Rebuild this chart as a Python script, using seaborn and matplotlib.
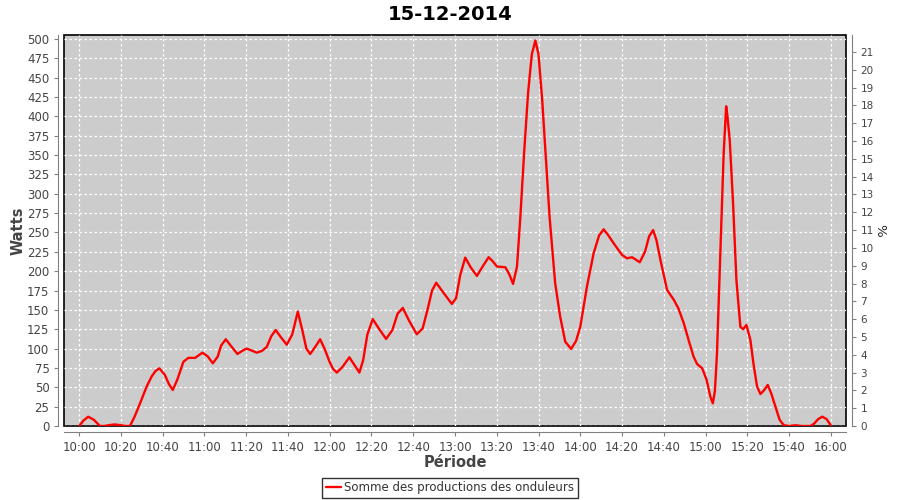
import numpy as np
import pandas as pd
import matplotlib
matplotlib.use("Agg")
import matplotlib.pyplot as plt
import seaborn as sns

# =========================
# DATA (minutes after 10:00, watts)
# =========================
minutes = [0, 2, 4.3, 7, 9.9, 12, 14, 17, 20, 22, 24.3, 26.5, 29.1, 32.3, 34.7, 36.5,
           38.4, 41, 43, 44.8, 47, 49.9, 52.3, 55.5, 59, 61.5, 64, 66.3, 68, 70.2, 72.5,
           75.8, 78, 80.2, 83, 85, 87.5, 89.8, 92, 94.1, 96.5, 99.4, 102, 104.7, 107,
           108.8, 110.6, 113, 115.4, 117.5, 119.9, 121.5, 123.4, 126, 129.4, 131.5,
           134.2, 136, 138, 140.6, 143.5, 147, 150, 152.5, 155, 158, 161.7, 164.5, 167,
           169, 171, 174.5, 178.5, 180.5, 182.5, 184.9, 187.5, 190.5, 193, 196.1, 198,
           200.1, 204.1, 206, 207.8, 209.7, 211.3, 213.2, 215, 216.8, 218.5, 220, 221.8,
           223.3, 225.3, 228, 230.4, 232.8, 235.6, 238, 240, 243.2, 246.4, 249, 251.2,
           253.5, 256, 260, 262.4, 264.8, 268.5, 271, 273, 274.9, 276.5, 278.4, 281.6,
           284.8, 287, 289.6, 292, 294.3, 296, 298.4, 300.5, 302.3, 303.5, 304.5, 305.5,
           307.1, 308.7, 309.9, 310.5, 311.6, 313.2, 314.8, 316.7, 318, 319.6, 321.5,
           323, 324.7, 326.3, 328, 329.8, 331.5, 333.5, 335.5, 337.5, 340, 343, 346,
           350.3, 352, 354, 355.9, 358, 360.2]
watts = [0, 7, 12, 8, 0, 0, 1, 2, 1, 0, 0, 12, 29, 51, 64, 71,
         74.5, 66, 54, 46.5, 60, 83, 88, 88, 94.7, 90, 81, 89.5, 104, 112, 104,
         93, 97, 100, 97, 94.7, 97, 102, 116, 124, 115, 105, 118, 147.7, 122,
         100, 93, 102, 112, 100, 83, 74, 69, 76, 88.7, 80,
         69, 85, 118, 138, 126, 112.4, 124, 145, 152.5, 136, 118.5, 126, 152,
         175, 185, 172, 157.6, 165, 195, 217.5, 205, 193.8, 205, 218, 213,
         206, 205, 196, 183.5, 206, 270, 356.6, 430, 480, 498, 480, 420,
         356.6, 270, 184, 141, 109, 99.5, 110, 128, 180, 223, 246, 254,
         246, 236, 221, 216.6, 218, 211.5, 225, 245, 253, 240, 214.5, 175.7,
         163, 152, 132.7, 110, 89.5, 80, 74.5, 60, 38, 29.3, 45, 94,
         223, 352, 413, 400, 369.5, 287.7, 188.6, 128, 125, 130.5, 111,
         80, 51, 41.3, 46, 53, 42, 25, 8, 1, 0, 1, 0,
         0, 3, 9, 12, 9, 0]

tick_minutes = list(range(0, 361, 20))
tick_labels = ["10:00", "10:20", "10:40", "11:00", "11:20", "11:40", "12:00",
               "12:20", "12:40", "13:00", "13:20", "13:40", "14:00", "14:20",
               "14:40", "15:00", "15:20", "15:40", "16:00"]
watt_ticks = list(range(0, 501, 25))
pct_ticks = list(range(0, 22))

title = "15-12-2014"
series_label = "Somme des productions des onduleurs"

df = pd.DataFrame({"minutes": minutes, "watts": watts})

# =========================
# PLOT
# =========================
sns.set_style("white")
plt.rcParams['font.family'] = ['DejaVu Sans']

fig = plt.figure(figsize=(9, 5), dpi=100)
ax = fig.add_axes([64 / 900, 74 / 500, 782 / 900, 391 / 500])

sns.lineplot(data=df, x="minutes", y="watts", ax=ax, color="#ff0000",
             linewidth=1.7, label=series_label, legend=False)

ax.set_facecolor("#cccccc")
ax.patch.set_edgecolor("black")
ax.patch.set_linewidth(1.2)
ax.set_xlim(-7.3, 367.3)
ax.set_ylim(0, 505)
ax.set_xticks(tick_minutes)
ax.set_xticklabels(tick_labels)
ax.set_yticks(watt_ticks)
ax.grid(True, color="white", linestyle=(0, (2, 2)), linewidth=0.9)
ax.set_axisbelow(True)

for side in ["top", "right"]:
    ax.spines[side].set_visible(False)
for side in ["left", "bottom"]:
    ax.spines[side].set_position(("outward", 4))
    ax.spines[side].set_color("#808080")

ax.tick_params(axis="both", labelsize=8.5, colors="#444444", length=3,
               direction="out", left=True, bottom=True)
ax.tick_params(axis="both", color="#808080")
ax.set_xlabel("Période", fontsize=10.5, color="#444444", fontweight="bold", labelpad=1)
ax.set_ylabel("Watts", fontsize=10.5, color="#444444", fontweight="bold", labelpad=1)

ax2 = ax.twinx()
ax2.set_ylim(0, 505 / 23.0)
ax2.set_yticks(pct_ticks)
for side in ["top", "left", "bottom"]:
    ax2.spines[side].set_visible(False)
ax2.spines["right"].set_position(("outward", 4))
ax2.spines["right"].set_color("#808080")
ax2.tick_params(axis="y", labelsize=7.5, colors="#444444", length=3,
                direction="out", right=True)
ax2.tick_params(axis="y", color="#808080")
ax2.set_ylabel("%", fontsize=9.5, color="#222222", rotation=-90)
ax2.yaxis.set_label_coords(1.043, 0.5)
ax2.yaxis.label.set_va("center")
ax2.yaxis.label.set_ha("center")

fig.text(0.5, 1 - 14 / 500, title, fontsize=14, fontweight="bold",
         ha="center", va="center", color="black")

handles, labels = ax.get_legend_handles_labels()
leg = fig.legend(handles, labels, loc="lower center", bbox_to_anchor=(0.5, 0.0),
                 fontsize=8.5, frameon=True, fancybox=False, handlelength=1.3,
                 handletextpad=0.3, borderpad=0.3, borderaxespad=0.2)
leg.get_frame().set_edgecolor("black")
leg.get_frame().set_linewidth(1.0)
for t in leg.get_texts():
    t.set_color("#333333")

fig.savefig("out.png", dpi=100)
